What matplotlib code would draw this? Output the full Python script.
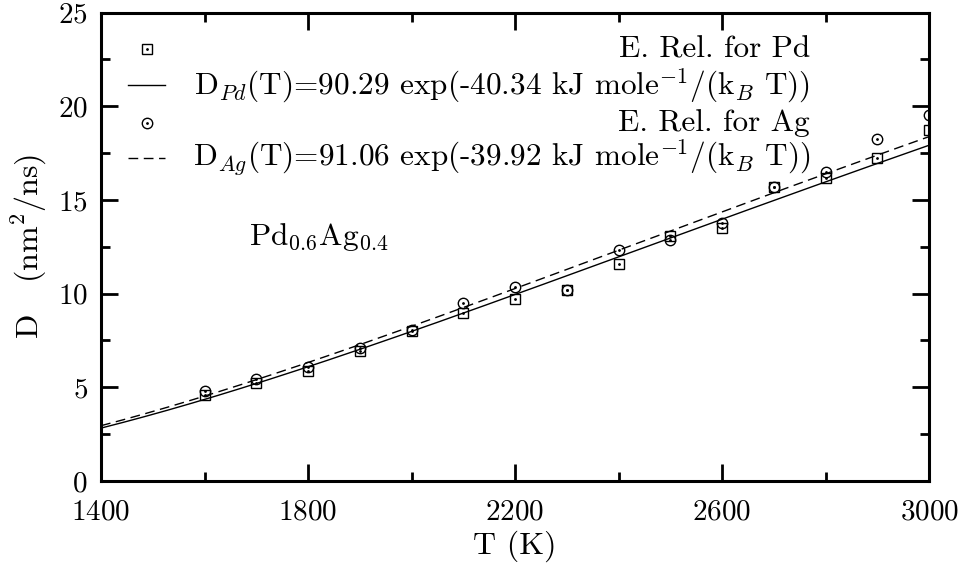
import numpy as np
import matplotlib
matplotlib.use("Agg")
import matplotlib.pyplot as plt
from matplotlib.lines import Line2D

plt.rcParams['font.family'] = ['cmr10', 'DejaVu Serif']
plt.rcParams['mathtext.fontset'] = 'cm'
plt.rcParams['axes.formatter.use_mathtext'] = True

# temperatures (K)
T = [1600, 1700, 1800, 1900, 2000, 2100, 2200, 2300, 2400, 2500, 2600, 2700, 2800, 2900, 3000]
# diffusion coefficients (nm^2/ns)
D_pd = [4.60, 5.25, 5.89, 6.94, 7.98, 8.98, 9.71, 10.18, 11.58, 13.10, 13.48, 15.70, 16.15, 17.25, 18.73]
D_ag = [4.78, 5.44, 6.07, 7.08, 8.05, 9.51, 10.37, 10.18, 12.33, 12.86, 13.78, 15.70, 16.51, 18.23, 19.53]

# Arrhenius parameters quoted in the legend
A_pd, Ea_pd = 90.29, 40.34
A_ag, Ea_ag = 91.06, 39.92
kB = 8.314462618e-3  # kJ/mol/K

fs_tick = 21
fs_text = 22.5
fs_label = 23

fig = plt.figure(figsize=(9.64, 5.69), dpi=100)
ax = fig.add_axes([0.1048, 0.1547, 0.859, 0.8233])

Tf = np.linspace(1400, 3000, 300)
ax.plot(Tf, A_pd * np.exp(-Ea_pd / (kB * Tf)), color='black', lw=1.0)
ax.plot(Tf, A_ag * np.exp(-Ea_ag / (kB * Tf)), color='black', lw=1.0, dashes=(7, 4))

ms = 7.5
ax.plot(T, D_pd, ls='none', marker='s', ms=ms, mfc='none', mec='black', mew=1.0)
ax.plot(T, D_pd, ls='none', marker='.', ms=2, color='black')
ax.plot(T, D_ag, ls='none', marker='o', ms=ms, mfc='none', mec='black', mew=1.0)
ax.plot(T, D_ag, ls='none', marker='.', ms=2, color='black')

ax.set_xlim(1400, 3000)
ax.set_ylim(0, 25)
ax.set_xticks([1400, 1800, 2200, 2600, 3000])
ax.set_xticks([1600, 2000, 2400, 2800], minor=True)
ax.set_yticks([0, 5, 10, 15, 20, 25])
ax.set_yticks([2.5, 7.5, 12.5, 17.5, 22.5], minor=True)
ax.tick_params(which='both', direction='in', top=True, right=True, width=2, labelsize=fs_tick)
ax.tick_params(which='major', length=12)
ax.tick_params(which='minor', length=6.5)
ax.tick_params(axis='x', pad=13)
ax.tick_params(axis='y', pad=9.5)
for s in ax.spines.values():
    s.set_linewidth(2.2)

ax.set_xlabel('T (K)', fontsize=fs_label, labelpad=4)
ax.set_ylabel('D   (nm$^2$/ns)', fontsize=fs_label, labelpad=6)

ax.text(1685, 13.0, r'Pd$_{0.6}$Ag$_{0.4}$', fontsize=fs_text, va='center')

# legend drawn by hand so the labels sit flush right, as in the original
tr = ax.transAxes
rows = [0.922, 0.845, 0.765, 0.689]
xr = 0.856
ax.add_line(Line2D([0.056], [rows[0]], transform=tr, ls='none', marker='s', ms=ms,
                   mfc='none', mec='black', mew=1.0))
ax.add_line(Line2D([0.056], [rows[0]], transform=tr, ls='none', marker='.', ms=2, color='black'))
ax.text(xr, rows[0], 'E. Rel. for Pd', transform=tr, fontsize=fs_text, ha='right', va='center')
ax.add_line(Line2D([0.033, 0.077], [rows[1]] * 2, transform=tr, color='black', lw=1.0))
ax.text(xr, rows[1], r'D$_{Pd}$(T)=90.29 exp(-40.34 kJ mole$^{-1}$/(k$_B$ T))', transform=tr,
        fontsize=fs_text, ha='right', va='center')
ax.add_line(Line2D([0.056], [rows[2]], transform=tr, ls='none', marker='o', ms=ms,
                   mfc='none', mec='black', mew=1.0))
ax.add_line(Line2D([0.056], [rows[2]], transform=tr, ls='none', marker='.', ms=2, color='black'))
ax.text(xr, rows[2], 'E. Rel. for Ag', transform=tr, fontsize=fs_text, ha='right', va='center')
ax.add_line(Line2D([0.033, 0.077], [rows[3]] * 2, transform=tr, color='black', lw=1.0, dashes=(7, 4)))
ax.text(xr, rows[3], r'D$_{Ag}$(T)=91.06 exp(-39.92 kJ mole$^{-1}$/(k$_B$ T))', transform=tr,
        fontsize=fs_text, ha='right', va='center')

fig.savefig('out.png', dpi=100)
